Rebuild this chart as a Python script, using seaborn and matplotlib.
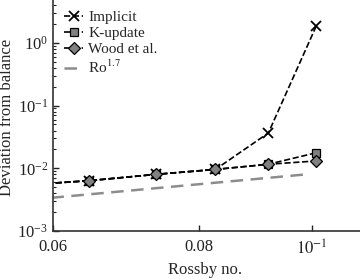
import pandas as pd
import matplotlib
matplotlib.use("Agg")
import matplotlib.pyplot as plt
import matplotlib.ticker as mticker
import seaborn as sns

# Values
rossby = [0.0553, 0.0644, 0.0735, 0.0827, 0.0918, 0.1009]
implicit = [5.24e-3, 6.34e-3, 8.0e-3, 9.6e-3, 3.66e-2, 1.86]
k_update = [5.24e-3, 6.34e-3, 8.0e-3, 9.6e-3, 1.16e-2, 1.77e-2]
wood = [5.24e-3, 6.34e-3, 8.0e-3, 9.6e-3, 1.16e-2, 1.31e-2]

ro_ref = [0.0553, 0.0996]
ref_vals = [2.96e-3, 8.1e-3]

xtick_vals = [0.06, 0.08, 0.1]
xtick_labels = ["0.06", "0.08", r"$10^{-1}$"]

sns.set_style("ticks")
plt.rcParams['font.family'] = ['Liberation Serif', 'DejaVu Serif']
plt.rcParams['mathtext.fontset'] = 'stix'

fig = plt.figure(figsize=(3.6, 2.79), dpi=100)
ax = fig.add_axes([0.147, 0.172, 0.853, 0.828])

df = pd.DataFrame({'Ro': rossby, 'Implicit': implicit,
                   'K-update': k_update, 'Wood et al.': wood})

sns.lineplot(data=df, x='Ro', y='Implicit', ax=ax, color='black',
             linestyle='--', lw=1.2, marker='x', markersize=7,
             markeredgecolor='black', markeredgewidth=1.3, label='Implicit')
sns.lineplot(data=df, x='Ro', y='K-update', ax=ax, color='black',
             linestyle='--', lw=1.2, marker='s', markersize=6,
             markerfacecolor='#808080', markeredgecolor='black',
             markeredgewidth=0.9, label='K-update')
sns.lineplot(data=df, x='Ro', y='Wood et al.', ax=ax, color='black',
             linestyle='--', lw=1.2, marker='D', markersize=6,
             markerfacecolor='#808080', markeredgecolor='black',
             markeredgewidth=0.9, label='Wood et al.')
sns.lineplot(x=ro_ref, y=ref_vals, ax=ax, color='#8c8c8c',
             linestyle=(0, (5, 3)), lw=1.8, label=r'Ro$^{1.7}$')

ax.set_xscale('log')
ax.set_yscale('log')
ax.set_xlim(0.06, 0.11)
ax.set_ylim(1e-3, 4.83)

ax.xaxis.set_major_locator(mticker.FixedLocator(xtick_vals))
ax.xaxis.set_major_formatter(mticker.FixedFormatter(xtick_labels))
ax.xaxis.set_minor_locator(mticker.NullLocator())
ax.yaxis.set_major_locator(mticker.LogLocator(base=10, numticks=10))
ax.yaxis.set_minor_locator(mticker.LogLocator(base=10, subs=range(2, 10), numticks=20))
ax.yaxis.set_minor_formatter(mticker.NullFormatter())

ax.tick_params(which='both', direction='in', labelsize=12, colors='#222222',
               labelcolor='#222222')
ax.tick_params(which='major', length=4, width=1)
ax.tick_params(which='minor', length=2.5, width=0.8)
ax.tick_params(axis='x', which='major', pad=6)

for side in ['top', 'right']:
    ax.spines[side].set_visible(False)
for side in ['left', 'bottom']:
    ax.spines[side].set_linewidth(1.2)
    ax.spines[side].set_color('#333333')

ax.set_xlabel('Rossby no.', fontsize=12)
ax.set_ylabel('Deviation from balance', fontsize=12)
ax.yaxis.set_label_coords(-0.122, 0.49)
ax.xaxis.set_label_coords(0.497, -0.135)

ax.legend(loc='upper left', frameon=False, fontsize=11, handlelength=1.3,
          handletextpad=0.3, labelspacing=0.15, borderaxespad=0.3,
          bbox_to_anchor=(0.0, 1.0))

fig.savefig('out.png', dpi=100)
